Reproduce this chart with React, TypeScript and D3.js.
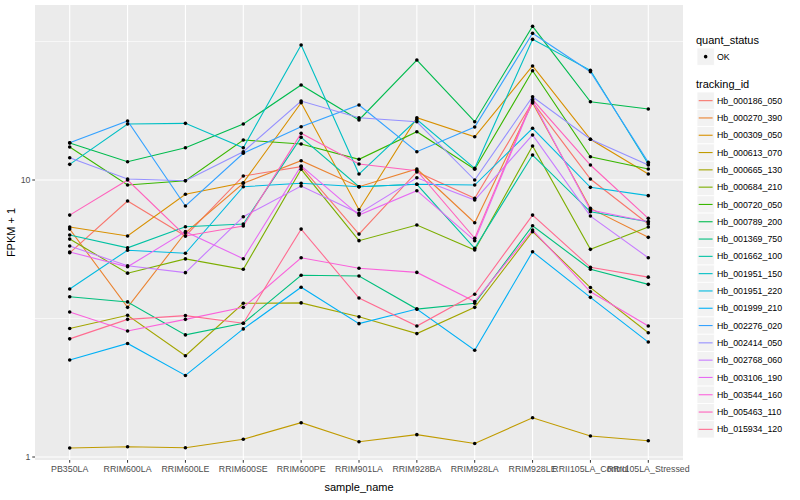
import React from "react";
import * as d3 from "d3";

const samples = [
  "PB350LA", "RRIM600LA", "RRIM600LE", "RRIM600SE", "RRIM600PE", "RRIM901LA",
  "RRIM928BA", "RRIM928LA", "RRIM928LE", "RRII105LA_Control", "RRII105LA_Stressed",
];

const trackingIds = [
  "Hb_000186_050", "Hb_000270_390", "Hb_000309_050", "Hb_000613_070", "Hb_000665_130",
  "Hb_000684_210", "Hb_000720_050", "Hb_000789_200", "Hb_001369_750", "Hb_001662_100",
  "Hb_001951_150", "Hb_001951_220", "Hb_001999_210", "Hb_002276_020", "Hb_002414_050",
  "Hb_002768_060", "Hb_003106_190", "Hb_003544_160", "Hb_005463_110", "Hb_015934_120",
];

const palette = [
  "#F8766D", "#EA8331", "#D89000", "#C09B00", "#A3A500", "#7CAE00", "#39B600", "#00BB4E",
  "#00BF7D", "#00C1A3", "#00BFC4", "#00BAE0", "#00B0F6", "#35A2FF", "#9590FF", "#C77CFF",
  "#E76BF3", "#FA62DB", "#FF62BC", "#FF6C91",
];

// FPKM + 1 per sample (order of `samples`)
const hb_000186_050 = [5.46, 8.4, 6.28, 10.34, 11.17, 6.38, 10.69, 8.59, 19.12, 10.08, 6.94];
const hb_000270_390 = [6.65, 3.47, 6.45, 9.73, 11.74, 9.46, 10.96, 7.01, 18.97, 7.9, 6.21];
const hb_000309_050 = [6.77, 6.28, 8.88, 9.78, 19.01, 7.81, 16.79, 14.33, 25.8, 14.03, 10.51];
const hb_000613_070 = [1.078, 1.089, 1.08, 1.159, 1.33, 1.135, 1.204, 1.119, 1.386, 1.191, 1.145];
const hb_000665_130 = [2.91, 3.25, 2.32, 3.59, 3.6, 3.21, 2.79, 3.47, 6.51, 4.09, 2.81];
const hb_000684_210 = [6.12, 4.61, 5.19, 4.76, 10.93, 6.04, 6.88, 5.59, 13.27, 5.62, 6.77];
const hb_000720_050 = [13.16, 9.59, 9.94, 13.94, 13.49, 11.88, 14.94, 10.93, 24.81, 12.14, 10.96];
const hb_000789_200 = [13.6, 11.64, 13.08, 15.93, 22.03, 16.47, 27.12, 16.24, 35.88, 19.17, 18.04];
const hb_001369_750 = [3.79, 3.63, 2.76, 3.04, 4.53, 4.5, 3.42, 3.59, 6.84, 4.76, 4.2];
const hb_001662_100 = [6.33, 5.69, 6.78, 6.94, 14.26, 9.46, 9.65, 5.67, 12.31, 7.68, 7.07];
const hb_001951_150 = [11.39, 15.93, 16.02, 13.08, 30.72, 10.51, 16.54, 11.02, 32.2, 24.89, 11.42];
const hb_001951_220 = [4.04, 5.58, 5.44, 9.46, 9.73, 9.46, 9.65, 9.59, 15.37, 9.41, 8.78];
const hb_001999_210 = [2.24, 2.57, 1.97, 2.9, 4.1, 3.03, 3.42, 2.43, 5.51, 3.77, 2.6];
const hb_002276_020 = [13.63, 16.33, 8.06, 12.49, 15.57, 18.66, 12.65, 15.54, 33.85, 24.6, 11.59];
const hb_002414_050 = [12.04, 10.08, 9.94, 12.65, 19.28, 16.79, 16.23, 10.0, 19.98, 14.03, 11.33];
const hb_002768_060 = [5.78, 4.9, 4.63, 7.37, 9.51, 7.58, 10.19, 8.47, 14.54, 7.41, 5.24];
const hb_003106_190 = [5.5, 4.86, 6.51, 5.2, 11.24, 7.47, 9.15, 6.04, 19.28, 7.79, 7.07];
const hb_003544_160 = [3.34, 2.85, 3.14, 3.47, 5.24, 4.8, 4.64, 3.64, 6.6, 3.95, 2.97];
const hb_005463_110 = [7.47, 10.0, 6.28, 6.82, 14.74, 11.42, 10.8, 6.16, 19.52, 11.33, 7.27];
const hb_015934_120 = [2.67, 3.14, 3.24, 3.04, 6.65, 3.75, 2.97, 3.87, 7.47, 4.84, 4.46];

const seriesValues = [
  hb_000186_050, hb_000270_390, hb_000309_050, hb_000613_070, hb_000665_130,
  hb_000684_210, hb_000720_050, hb_000789_200, hb_001369_750, hb_001662_100,
  hb_001951_150, hb_001951_220, hb_001999_210, hb_002276_020, hb_002414_050,
  hb_002768_060, hb_003106_190, hb_003544_160, hb_005463_110, hb_015934_120,
];

const yMajorTicks = [1, 10];
const yMinorTicks = [3.162, 31.62];

const W = 800;
const H = 500;
const panel = { left: 35, right: 683, top: 5, bottom: 460 };
const FONT = "'Liberation Sans', Arial, Helvetica, sans-serif";

export default function App() {
  const x = d3
    .scalePoint<string>()
    .domain(samples)
    .range([panel.left, panel.right])
    .padding(0.6);
  const y = d3.scaleLog().domain([0.9754, 42.84]).range([panel.bottom, panel.top]);

  const line = d3
    .line<number>()
    .x((_, i) => x(samples[i]) as number)
    .y((d) => y(d));

  const legendX = 697;
  const keyTop = 92;
  const keyStep = 17.3;

  return (
    <svg
      width={W}
      height={H}
      style={{ position: "absolute", left: 0, top: 0, background: "#fff" }}
      fontFamily={FONT}
    >
      <rect x={0} y={0} width={W} height={H} fill="#fff" />
      <rect
        x={panel.left}
        y={panel.top}
        width={panel.right - panel.left}
        height={panel.bottom - panel.top}
        fill="#EBEBEB"
      />
      {yMinorTicks.map((t) => (
        <line key={"mi" + t} x1={panel.left} x2={panel.right} y1={y(t)} y2={y(t)} stroke="#fff" strokeWidth={0.6} />
      ))}
      {yMajorTicks.map((t) => (
        <line key={"ma" + t} x1={panel.left} x2={panel.right} y1={y(t)} y2={y(t)} stroke="#fff" strokeWidth={1.1} />
      ))}
      {samples.map((s) => (
        <line key={"gx" + s} x1={x(s)} x2={x(s)} y1={panel.top} y2={panel.bottom} stroke="#fff" strokeWidth={1.1} />
      ))}

      {seriesValues.map((vals, i) => (
        <path key={"l" + i} d={line(vals) as string} fill="none" stroke={palette[i]} strokeWidth={1.1} />
      ))}
      {seriesValues.map((vals, i) =>
        vals.map((v, j) => (
          <circle key={"p" + i + "-" + j} cx={x(samples[j])} cy={y(v)} r={1.8} fill="#000" />
        ))
      )}

      {/* y axis */}
      {yMajorTicks.map((t) => (
        <g key={"yt" + t}>
          <line x1={panel.left - 2.75} x2={panel.left} y1={y(t)} y2={y(t)} stroke="#333" strokeWidth={1} />
          <text x={panel.left - 4.5} y={y(t)} dy="0.35em" textAnchor="end" fontSize={8.8} fill="#4D4D4D">
            {t}
          </text>
        </g>
      ))}
      <text
        transform={`translate(14.5, ${(panel.top + panel.bottom) / 2}) rotate(-90)`}
        textAnchor="middle"
        fontSize={11}
        fill="#000"
      >
        FPKM + 1
      </text>

      {/* x axis */}
      {samples.map((s) => (
        <g key={"xt" + s}>
          <line x1={x(s)} x2={x(s)} y1={panel.bottom} y2={panel.bottom + 2.75} stroke="#333" strokeWidth={1} />
          <text x={x(s)} y={panel.bottom + 11.5} textAnchor="middle" fontSize={8.8} fill="#4D4D4D">
            {s}
          </text>
        </g>
      ))}
      <text x={(panel.left + panel.right) / 2} y={491} textAnchor="middle" fontSize={11} fill="#000">
        sample_name
      </text>

      {/* legend: quant_status */}
      <text x={legendX - 1} y={44} fontSize={11} fill="#000">
        quant_status
      </text>
      <rect x={legendX} y={48} width={17.3} height={17.3} fill="#F2F2F2" stroke="#fff" strokeWidth={0.8} />
      <circle cx={legendX + 8.65} cy={56.65} r={1.8} fill="#000" />
      <text x={legendX + 20} y={56.65} dy="0.35em" fontSize={8.8} fill="#000">
        OK
      </text>

      {/* legend: tracking_id */}
      <text x={legendX - 1} y={88} fontSize={11} fill="#000">
        tracking_id
      </text>
      {trackingIds.map((id, i) => {
        const top = keyTop + i * keyStep;
        return (
          <g key={"lg" + id}>
            <rect x={legendX} y={top} width={17.3} height={keyStep} fill="#F2F2F2" stroke="#fff" strokeWidth={0.8} />
            <line
              x1={legendX + 1.7}
              x2={legendX + 15.6}
              y1={top + keyStep / 2}
              y2={top + keyStep / 2}
              stroke={palette[i]}
              strokeWidth={1.1}
            />
            <text x={legendX + 20} y={top + keyStep / 2} dy="0.35em" fontSize={8.8} fill="#000">
              {id}
            </text>
          </g>
        );
      })}
    </svg>
  );
}
